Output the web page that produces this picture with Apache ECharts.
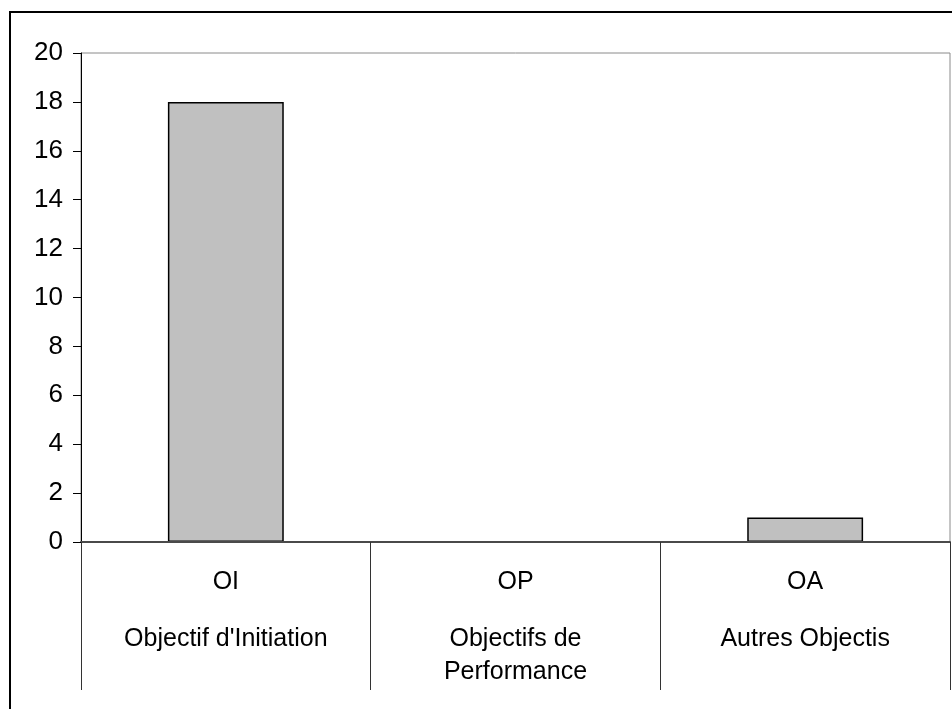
<!DOCTYPE html>
<html>
<head>
<meta charset="utf-8">
<script src="https://cdn.jsdelivr.net/npm/echarts@6/dist/echarts.min.js"></script>
<style>
html,body{margin:0;padding:0;background:#fff;}
#main{width:952px;height:709px;}
</style>
</head>
<body>
<div id="main"></div>
<script>
var codes = ['OI', 'OP', 'OA'];
var names = ["Objectif d'Initiation", 'Objectifs de\nPerformance', 'Autres Objectis'];
var values = [18, 0, 1];
var yTicks = [0, 2, 4, 6, 8, 10, 12, 14, 16, 18, 20];

var categories = codes.map(function (c, i) { return c + '\n' + names[i]; });

var chart = echarts.init(document.getElementById('main'), null, {renderer: 'canvas'});
var FONT = '"Liberation Sans", Arial, sans-serif';
chart.setOption({
  animation: false,
  backgroundColor: '#fff',
  graphic: [{
    type: 'rect',
    shape: {x: 10, y: 12, width: 980, height: 740},
    style: {fill: 'none', stroke: '#000', lineWidth: 2},
    silent: true
  }],
  grid: {
    left: 81, right: 2, top: 53, bottom: 167,
    show: true, borderColor: '#8a8a8a', borderWidth: 1, backgroundColor: 'transparent'
  },
  xAxis: {
    type: 'category',
    z: 5,
    data: categories,
    axisLine: {lineStyle: {color: '#4a4a4a', width: 2}},
    axisTick: {show: true, length: 148, alignWithLabel: false, lineStyle: {color: '#333', width: 1}},
    axisLabel: {
      margin: 0,
      interval: 0,
      formatter: function (v) {
        var parts = v.split('\n');
        var first = parts.shift();
        return '{a|' + first + '}\n' + parts.map(function (p) { return '{b|' + p + '}'; }).join('\n');
      },
      rich: {
        a: {fontFamily: FONT, fontSize: 25, color: '#000', lineHeight: 81},
        b: {fontFamily: FONT, fontSize: 25, color: '#000', lineHeight: 33}
      }
    }
  },
  yAxis: {
    type: 'value',
    z: 5,
    min: yTicks[0], max: yTicks[yTicks.length - 1], interval: 2,
    axisLine: {show: true, lineStyle: {color: '#000', width: 1}},
    axisTick: {show: true, length: 8, lineStyle: {color: '#000'}},
    splitLine: {show: false},
    axisLabel: {margin: 18, fontFamily: FONT, fontSize: 26, color: '#000'}
  },
  series: [{
    type: 'bar',
    z: 1,
    data: values,
    barWidth: '40%',
    itemStyle: {color: '#c0c0c0', borderColor: '#000', borderWidth: 1.5}
  }]
});
</script>
</body>
</html>
